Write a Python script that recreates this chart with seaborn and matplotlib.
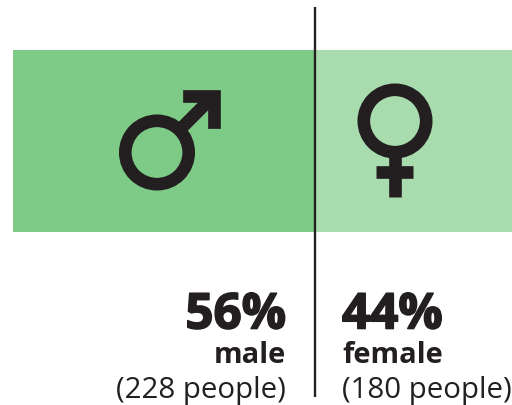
import matplotlib
matplotlib.use('Agg')
import matplotlib.pyplot as plt
import matplotlib.patheffects as pe
import seaborn as sns
import pandas as pd
from matplotlib.path import Path
from matplotlib.patches import PathPatch, Circle

genders = ['male', 'female']
percents = [56, 44]
people = [228, 180]
colors = ['#7DCB87', '#A8DCAE']
ink = '#231F20'

sns.set_theme(style='white')
plt.rcParams['font.family'] = ['Open Sans', 'DejaVu Sans']

W, H = 512, 406
fig = plt.figure(figsize=(W / 100, H / 100), dpi=100)
ax = fig.add_axes([13 / W, 1 - 233 / H, (512 - 13) / W, (232 - 50) / H])

df = pd.DataFrame({'group': ['all', 'all'], 'pct': percents, 'who': genders})
# stacked single bar, the right part runs off the edge like in the original
sns.barplot(data=df[df.who == 'male'], y='group', x='pct', color=colors[0], width=1, saturation=1, ax=ax, linewidth=0)
sns.barplot(data=df[df.who == 'female'], y='group', x='pct', color=colors[1], width=1, saturation=1, ax=ax, linewidth=0, left=percents[0])
ax.set_xlim(0, percents[0] * (512 - 13) / (314 - 13))
ax.set_ylim(0.5, -0.5)
ax.axis('off')

# overlay in pixel coordinates for the symbols and text
ov = fig.add_axes([0, 0, 1, 1])
ov.set_xlim(0, W)
ov.set_ylim(H - 1, -1)
ov.axis('off')
ov.patch.set_alpha(0)

ov.plot([314.5, 314.5], [7, 397], color=ink, lw=1.7, solid_capstyle='butt')

stroke = 9.1

# male symbol
ov.add_patch(Circle((157, 152.5), 31.7, fill=False, ec=ink, lw=stroke))
ov.plot([178, 212], [131.5, 97.5], color=ink, lw=stroke, solid_capstyle='butt')
ov.add_patch(PathPatch(Path([(183, 90), (219.5, 90), (219.5, 127.5), (207.5, 127.5), (207.5, 102), (183, 102), (183, 90)]),
                       fc=ink, ec=ink, lw=0.5, joinstyle='round'))

# female symbol
ov.add_patch(Circle((395, 121), 31.2, fill=False, ec=ink, lw=stroke))
ov.plot([394.5, 394.5], [156, 197], color=ink, lw=stroke, solid_capstyle='butt')
ov.plot([376, 413], [172, 172], color=ink, lw=stroke, solid_capstyle='butt')

heavy = [pe.withStroke(linewidth=1.2, foreground=ink)]
t1 = ov.text(286, 316, f'{percents[0]}%', ha='right', va='center', fontsize=35.5, fontweight='bold', color=ink)
t2 = ov.text(342, 316, f'{percents[1]}%', ha='left', va='center', fontsize=35.5, fontweight='bold', color=ink)
t1.set_path_effects(heavy)
t2.set_path_effects(heavy)
ov.text(286, 355, genders[0], ha='right', va='center', fontsize=21, fontweight='bold', color=ink)
ov.text(342, 355, genders[1], ha='left', va='center', fontsize=21, fontweight='bold', color=ink)
ov.text(286, 390, f'({people[0]} people)', ha='right', va='center', fontsize=21.2, color=ink)
ov.text(342, 390, f'({people[1]} people)', ha='left', va='center', fontsize=21.2, color=ink)

fig.savefig('out.png', dpi=100)
